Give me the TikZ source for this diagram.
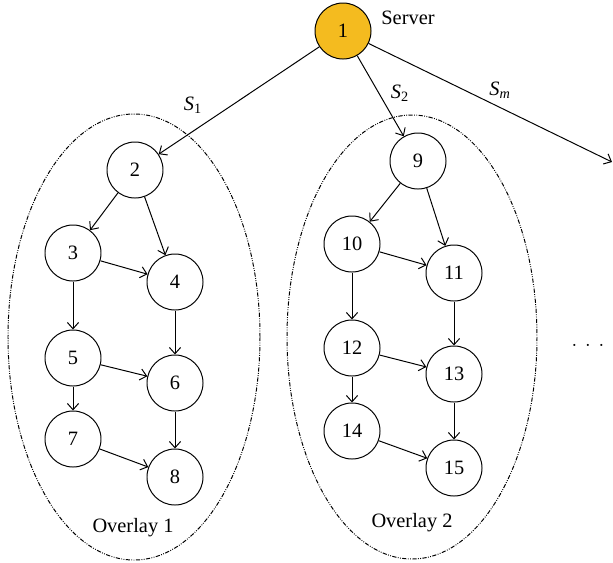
\documentclass[tikz,border=0pt]{standalone}
\usepackage{fontspec}
\setmainfont{Liberation Serif}
\usetikzlibrary{arrows.meta}
\definecolor{servercol}{HTML}{F4BB1F}
\tikzset{
  vertex/.style={circle,draw,line width=0.7pt,minimum size=1.4cm,inner sep=0pt},
  overlay/.style={line width=0.7pt,dash pattern=on 3pt off 1pt on 0.6pt off 1pt on 0.6pt off 1pt},
}
\begin{document}
\begin{tikzpicture}[x=0.025cm,y=-0.025cm,>={Straight Barb[length=4.5pt,width=8pt]},line join=bevel,font=\fontsize{14.5}{16}\selectfont]
\useasboundingbox (0,0) rectangle (613,562);
%%
  \draw [overlay] (134,337) ellipse [x radius=126, y radius=223];
  \draw [overlay] (412,337) ellipse [x radius=125, y radius=222];

  \node (node_1) at (343,31) [vertex,fill=servercol] {1};
  \node (server) at (408,18) {Server};

  \node (node_2) at (135,170) [vertex] {2};
  \node (node_3) at (73,253) [vertex] {3};
  \node (node_4) at (175,282) [vertex] {4};
  \node (node_5) at (73,358) [vertex] {5};
  \node (node_6) at (175,383) [vertex] {6};
  \node (node_7) at (73,439) [vertex] {7};
  \node (node_8) at (175,477) [vertex] {8};

  \node (node_9) at (418,161) [vertex] {9};
  \node (node_10) at (352,244) [vertex] {10};
  \node (node_11) at (454,273) [vertex] {11};
  \node (node_12) at (352,348) [vertex] {12};
  \node (node_13) at (454,374) [vertex] {13};
  \node (node_14) at (352,431) [vertex] {14};
  \node (node_15) at (454,468) [vertex] {15};

  \coordinate (node_m) at (612,162);

  \node (label_1) at (193,105) {\itshape S\textsubscript{\upshape 1}};
  \node (label_2) at (400,93) {\itshape S\textsubscript{\upshape 2}};
  \node (label_m) at (500,90) {\itshape S\textsubscript{m}};

  \node (overlay_1) at (133,528) {Overlay 1};
  \node (overlay_2) at (412,523) {Overlay 2};
  \node (more) at (588,346) {$\cdot\,\cdot\,\cdot$};

  \draw [black,->,line width=0.7pt] (node_1) edge (node_2);
  \draw [black,->,line width=0.7pt] (node_1) edge (node_9);
  \draw [black,->,line width=0.7pt] (node_1) edge (node_m);

  \draw [black,->,line width=0.7pt] (node_2) edge (node_3);
  \draw [black,->,line width=0.7pt] (node_2) edge (node_4);
  \draw [black,->,line width=0.7pt] (node_3) edge (node_4);
  \draw [black,->,line width=0.7pt] (node_3) edge (node_5);
  \draw [black,->,line width=0.7pt] (node_4) edge (node_6);
  \draw [black,->,line width=0.7pt] (node_5) edge (node_6);
  \draw [black,->,line width=0.7pt] (node_5) edge (node_7);
  \draw [black,->,line width=0.7pt] (node_6) edge (node_8);
  \draw [black,->,line width=0.7pt] (node_7) edge (node_8);

  \draw [black,->,line width=0.7pt] (node_9) edge (node_10);
  \draw [black,->,line width=0.7pt] (node_9) edge (node_11);
  \draw [black,->,line width=0.7pt] (node_10) edge (node_11);
  \draw [black,->,line width=0.7pt] (node_10) edge (node_12);
  \draw [black,->,line width=0.7pt] (node_11) edge (node_13);
  \draw [black,->,line width=0.7pt] (node_12) edge (node_13);
  \draw [black,->,line width=0.7pt] (node_12) edge (node_14);
  \draw [black,->,line width=0.7pt] (node_13) edge (node_15);
  \draw [black,->,line width=0.7pt] (node_14) edge (node_15);
%
\end{tikzpicture}
\end{document}
